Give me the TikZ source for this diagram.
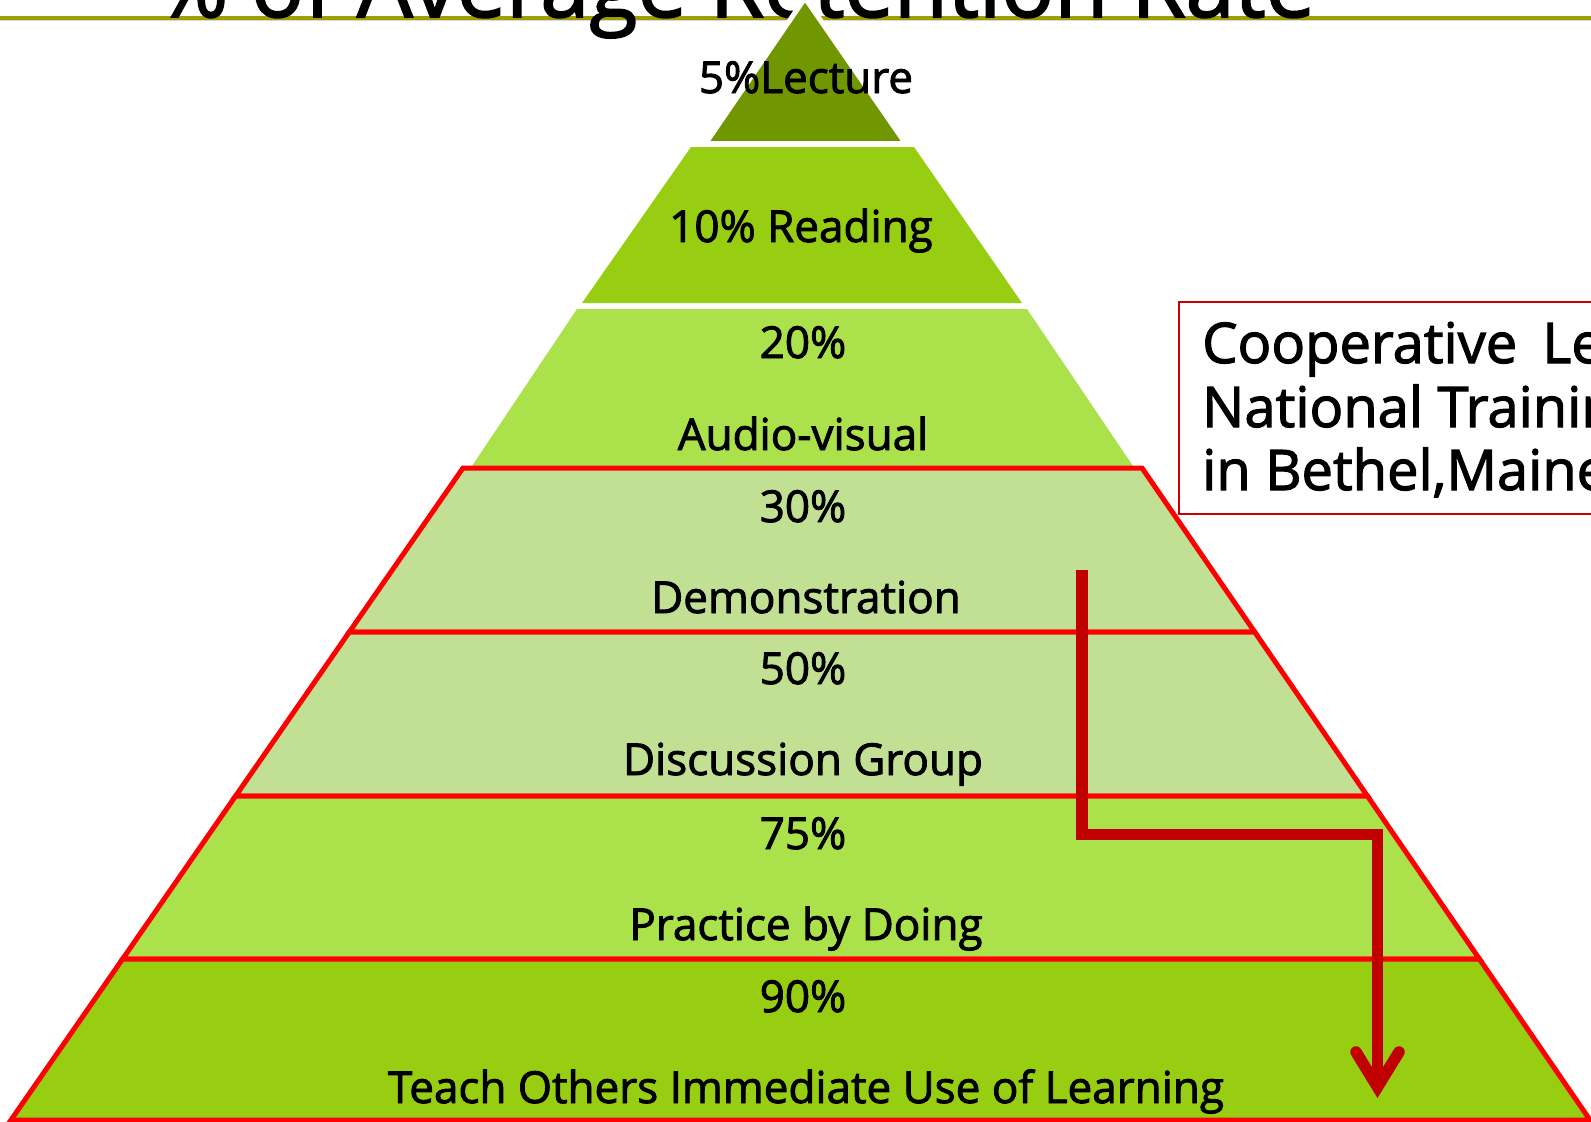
\documentclass[tikz,border=0pt]{standalone}
\usepackage{fontspec}
\setmainfont{Open Sans}
\newfontfamily\heavyfont{Open Sans}[FakeBold=2]
\definecolor{lvtop}{RGB}{112,150,0}
\definecolor{lvmid}{RGB}{151,206,17}
\definecolor{lvlite}{RGB}{171,225,75}
\definecolor{lvpale}{RGB}{194,224,148}
\definecolor{ruleolive}{RGB}{158,158,0}
\definecolor{arrowred}{RGB}{192,0,0}
\definecolor{boxred}{RGB}{204,0,0}
\begin{document}
\begin{tikzpicture}[x=1pt,y=-1pt,
  lbl/.style={font=\heavyfont\fontsize{44pt}{52pt}\selectfont, anchor=base, inner sep=0pt},
  boxlbl/.style={font=\heavyfont\fontsize{56pt}{64pt}\selectfont, anchor=base west, inner sep=0pt},
  titlelbl/.style={font=\heavyfont\fontsize{88pt}{100pt}\selectfont, anchor=base, inner sep=0pt},
  redlayer/.style={draw=red, line width=5pt, line join=miter},
  flow/.style={draw=arrowred, line width=11.5pt},
]
\useasboundingbox (0,0) rectangle (1591,1122);
\clip (0,0) rectangle (1591,1122);
% header rule and title
\draw[ruleolive, line width=4pt] (0,17.8) -- (1591,17.8);
\draw[black!15, line width=1pt] (0,20.5) -- (1591,20.5);
\node[titlelbl] (title) at (735.5,17) {\% of Average Retention Rate};
% upper layers
\filldraw[fill=lvtop, draw=white, line width=5pt, line join=round]
  (805,-2) -- (705.5,143.5) -- (905.5,143.5) -- cycle;
\fill[lvmid] (691,147) -- (914,147) -- (1022,303) -- (582,303) -- cycle;
\fill[lvlite] (577,309) -- (1027,309) -- (1135,469) -- (470,469) -- cycle;
% lower layers with red outline
\filldraw[redlayer, fill=lvpale] (463,468) -- (1142,468) -- (1254.7,632) -- (349.3,632) -- cycle;
\filldraw[redlayer, fill=lvpale] (349.3,632) -- (1254.7,632) -- (1367.4,796) -- (235.6,796) -- cycle;
\filldraw[redlayer, fill=lvlite] (235.6,796) -- (1367.4,796) -- (1479.4,959) -- (122.6,959) -- cycle;
\filldraw[redlayer, fill=lvmid] (122.6,959) -- (1479.4,959) -- (1590,1120) -- (11,1120) -- cycle;
% labels
\node[lbl] (l5) at (806,93) {5\%Lecture};
\node[lbl] (l10) at (801,242) {10\% Reading};
\node[lbl] (p20) at (803,358) {20\%};
\node[lbl] (t20) at (803,450) {Audio-visual};
\node[lbl] (p30) at (803,522) {30\%};
\node[lbl] (t30) at (806,613) {Demonstration};
\node[lbl] (p50) at (803,684) {50\%};
\node[lbl] (t50) at (803,775) {Discussion Group};
\node[lbl] (p75) at (803,849) {75\%};
\node[lbl] (t75) at (806,940) {Practice by Doing};
\node[lbl] (p90) at (803,1012) {90\%};
\node[lbl] (t90) at (806,1103) {Teach Others Immediate Use of Learning};
% source box
\draw[boxred, line width=2pt] (1179,302) rectangle (1700,514);
\node[boxlbl] (b1) at (1202,363) {Cooperative\hspace{0.45em}Learning};
\node[boxlbl] (b2) at (1202,427) {National Training};
\node[boxlbl] (b3) at (1202,490) {in Bethel,Maine};
% arrow
\coordinate (a0) at (1082,570);
\coordinate (a1) at (1082,834.5);
\coordinate (a2) at (1377.5,834.5);
\coordinate (a3) at (1377.5,1087);
\coordinate (h1) at (1356,1052);
\coordinate (h2) at (1399,1052);
\draw[flow, line join=miter] (a0) -- (a1) -- (a2) -- (a3);
\draw[flow, line cap=round, line join=miter] (h1) -- (a3) -- (h2);
\end{tikzpicture}
\end{document}
